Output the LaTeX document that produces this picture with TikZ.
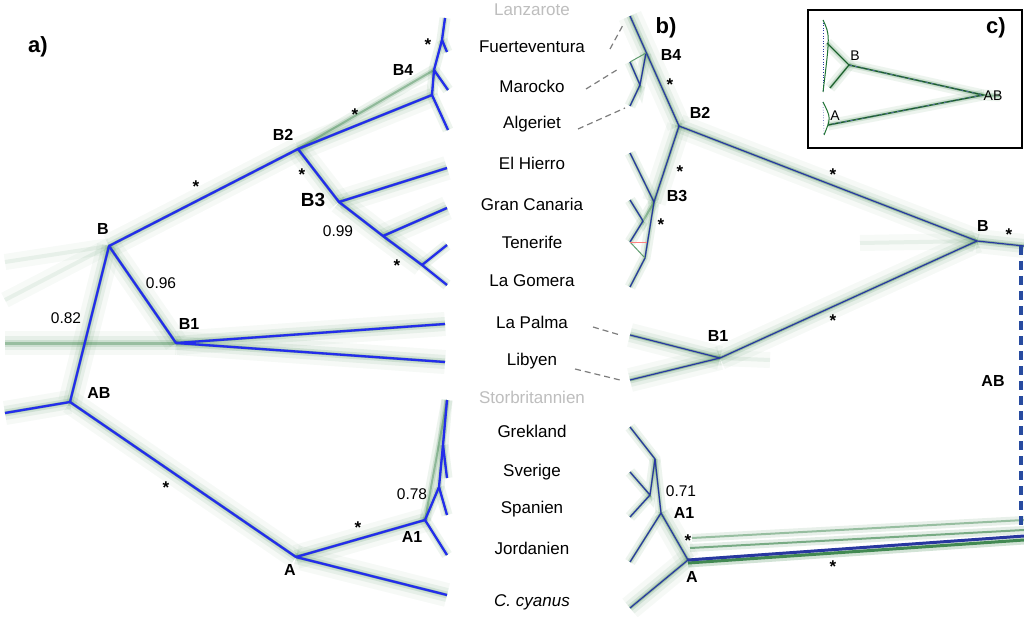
\documentclass[tikz,border=0pt]{standalone}
\usepackage{fontspec}
\setmainfont{Liberation Sans}
\definecolor{tblue}{RGB}{35,45,235}
\definecolor{nblue}{RGB}{40,55,160}
\definecolor{hgreen}{RGB}{30,115,50}
\definecolor{lgray}{RGB}{190,190,190}
\definecolor{dgray}{RGB}{125,125,125}
\definecolor{abblue}{RGB}{40,75,160}
\tikzset{
  tr/.style={draw=tblue, line width=2.3pt, line join=round},
  trb/.style={draw=nblue, line width=1.2pt, line join=round},
  haze/.style={draw=hgreen, line width=3pt, opacity=0.3,
    preaction={draw=hgreen, line width=24pt, opacity=0.04},
    preaction={draw=hgreen, line width=14pt, opacity=0.07},
    preaction={draw=hgreen, line width=7pt, opacity=0.12}},
  hazes/.style={draw=hgreen, line width=2pt, opacity=0.35,
    preaction={draw=hgreen, line width=11pt, opacity=0.08},
    preaction={draw=hgreen, line width=5pt, opacity=0.14}},
  hazef/.style={draw=hgreen, line width=4pt, opacity=0.07,
    preaction={draw=hgreen, line width=16pt, opacity=0.035}},
  lab/.style={font=\fontsize{16}{18}\selectfont\bfseries, inner sep=0pt},
  num/.style={font=\fontsize{15.5}{18}\selectfont, inner sep=0pt},
  star/.style={font=\fontsize{17}{18}\selectfont\bfseries, inner sep=0pt},
  sp/.style={font=\fontsize{17}{20}\selectfont, inner sep=0pt},
  spg/.style={sp, text=lgray},
  conn/.style={draw=dgray, line width=1.2pt, dash pattern=on 6pt off 4pt},
}
\begin{document}
\begin{tikzpicture}[x=1pt, y=-1pt]
\useasboundingbox[fill=white] (0,0) rectangle (1024,617);

% ---------------- panel a coordinates
\coordinate (r0) at (5,413);
\coordinate (AB) at (70,402);
\coordinate (B) at (109,246);
\coordinate (B1) at (176,343);
\coordinate (tLP) at (445,324);
\coordinate (tLi) at (445,362);
\coordinate (B2) at (298,149);
\coordinate (B4) at (432,95);
\coordinate (P1) at (434,70);
\coordinate (P2) at (442,40);
\coordinate (t1) at (445,18);
\coordinate (t2) at (447,52);
\coordinate (t3) at (448,90);
\coordinate (t4) at (448,130);
\coordinate (B3) at (339,202);
\coordinate (tEH) at (447,168);
\coordinate (N99) at (383,236);
\coordinate (tGC) at (447,208);
\coordinate (N3) at (422,265);
\coordinate (tTe) at (447,245);
\coordinate (tLG) at (447,285);
\coordinate (A) at (296,557);
\coordinate (tCc) at (447,595);
\coordinate (A1) at (425,520);
\coordinate (Q) at (439,487);
\coordinate (R) at (443,445);
\coordinate (tGr) at (447,400);
\coordinate (tSv) at (447,478);
\coordinate (tSp) at (447,515);
\coordinate (tJo) at (447,555);
\coordinate (lh0) at (5,343);
\coordinate (lh1) at (5,300);
\coordinate (lh2) at (5,262);

% haze a
\path[haze] (r0) -- (AB);
\path[haze] (lh0) -- (B1);
\path[hazef] (lh1) -- (B);
\path[hazef] (lh2) -- (B);
\path[haze] (AB) -- (B);
\path[haze] (B) -- (B1);
\path[haze] (B1) -- (tLP);
\path[haze] (B1) -- (tLi);
\path[haze] (B) -- (B2);
\path[haze] (B2) -- (B4);
\path[hazes] (B2) -- (P1);
\path[hazes] (B4) -- (P1) -- (P2) -- (t1);
\path[hazes] (P2) -- (t2);
\path[hazes] (P1) -- (t3);
\path[hazes] (B4) -- (t4);
\path[haze] (B2) -- (B3);
\path[haze] (B3) -- (tEH);
\path[haze] (B3) -- (N99);
\path[haze] (N99) -- (tGC);
\path[haze] (N99) -- (N3);
\path[hazes] (N3) -- (tTe);
\path[hazes] (N3) -- (tLG);
\path[haze] (AB) -- (A);
\path[haze] (A) -- (tCc);
\path[haze] (A) -- (A1);
\path[hazes] (A1) -- (Q) -- (R) -- (tGr);
\path[hazes] (R) -- (tSv);
\path[hazes] (Q) -- (tSp);
\path[hazes] (A1) -- (tJo);
\path[hazes] (A1) -- (tGr);

% tree a
\draw[tr] (r0) -- (AB) -- (B) -- (B2) -- (B4) -- (P1) -- (P2) -- (t1);
\draw[tr] (P2) -- (t2);
\draw[tr] (P1) -- (t3);
\draw[tr] (B4) -- (t4);
\draw[tr] (B) -- (B1) -- (tLP);
\draw[tr] (B1) -- (tLi);
\draw[tr] (B2) -- (B3) -- (tEH);
\draw[tr] (B3) -- (N99) -- (tGC);
\draw[tr] (N99) -- (N3) -- (tTe);
\draw[tr] (N3) -- (tLG);
\draw[tr] (AB) -- (A) -- (tCc);
\draw[tr] (A) -- (A1) -- (Q) -- (R) -- (tGr);
\draw[tr] (R) -- (tSv);
\draw[tr] (Q) -- (tSp);
\draw[tr] (A1) -- (tJo);

% labels a
\node[font=\fontsize{22}{24}\selectfont\bfseries, inner sep=0pt] (la) at (38,47) {a)};
\node[lab] (lB4) at (403,70) {B4};
\node[lab] (lB2) at (283,135) {B2};
\node[lab, font=\fontsize{19}{20}\selectfont\bfseries] (lB3) at (313,200) {B3};
\node[lab] (lB) at (103,229) {B};
\node[lab] (lB1) at (189,324) {B1};
\node[lab] (lAB) at (99,393) {AB};
\node[lab] (lA) at (290,570) {A};
\node[lab] (lA1) at (412,537) {A1};
\node[num] (n96) at (161,283) {0.96};
\node[num] (n99) at (338,231) {0.99};
\node[num] (n82) at (66,318) {0.82};
\node[num] (n78) at (412,494) {0.78};
\node[star] (s1) at (428,45) {*};
\node[star] (s2) at (355,115) {*};
\node[star] (s3) at (196,187) {*};
\node[star] (s4) at (302,175) {*};
\node[star] (s5) at (397,266) {*};
\node[star] (s6) at (166,488) {*};
\node[star] (s7) at (358,528) {*};

% ---------------- species column
\node[spg] (sLa) at (532,10) {Lanzarote};
\node[sp] (sFu) at (532,47) {Fuerteventura};
\node[sp] (sMa) at (532,86) {Marocko};
\node[sp] (sAl) at (532,124) {Algeriet};
\node[sp] (sEH) at (532,163) {El Hierro};
\node[sp] (sGC) at (532,204) {Gran Canaria};
\node[sp] (sTe) at (532,242) {Tenerife};
\node[sp] (sLG) at (532,281) {La Gomera};
\node[sp] (sLP) at (532,322) {La Palma};
\node[sp] (sLi) at (532,361) {Libyen};
\node[spg] (sSt) at (532,397) {Storbritannien};
\node[sp] (sGr) at (532,431) {Grekland};
\node[sp] (sSv) at (532,472) {Sverige};
\node[sp] (sSp) at (532,509) {Spanien};
\node[sp] (sJo) at (532,548) {Jordanien};
\node[sp, font=\fontsize{17}{20}\selectfont\itshape] (sCc) at (532,602) {C. cyanus};

% ---------------- panel b coordinates
\coordinate (bB2) at (679,126);
\coordinate (bT) at (630,16);
\coordinate (bX) at (646,53);
\coordinate (bY) at (640,85);
\coordinate (bt2) at (630,62);
\coordinate (bt3) at (630,106);
\coordinate (bB3) at (654,202);
\coordinate (btEH) at (630,153);
\coordinate (bU) at (643,221);
\coordinate (bt5) at (630,200);
\coordinate (bt6) at (630,242);
\coordinate (bT2) at (645,258);
\coordinate (bt7) at (630,287);
\coordinate (bB) at (977,241);
\coordinate (bBr) at (1024,246);
\coordinate (bB1) at (720,358);
\coordinate (btLP) at (630,335);
\coordinate (btLi) at (630,380);
\coordinate (bA) at (688,560);
\coordinate (bAr) at (1024,536);
\coordinate (btCc) at (630,608);
\coordinate (bA1) at (661,513);
\coordinate (bW) at (655,459);
\coordinate (btGr) at (630,427);
\coordinate (bV) at (650,495);
\coordinate (btSv) at (630,472);
\coordinate (btSp) at (630,517);
\coordinate (btJo) at (630,562);
\coordinate (bg1a) at (690,548);
\coordinate (bg1b) at (1024,530);
\coordinate (bg2a) at (692,538);
\coordinate (bg2b) at (1024,520);
\coordinate (bg3a) at (688,563);
\coordinate (bg3b) at (1024,540);
\coordinate (bh0) at (860,243);
\coordinate (bh1) at (770,360);

% haze b
\path[haze] (bB2) -- (bT);
\path[hazes] (bX) -- (bY) -- (bt2);
\path[hazes] (bY) -- (bt3);
\path[haze] (bB2) -- (bB3);
\path[hazes] (bB3) -- (btEH);
\path[hazes] (bB3) -- (bU) -- (bt5);
\path[hazes] (bU) -- (bt6);
\path[hazes] (bB3) -- (bT2) -- (bt7);
\path[haze] (bB2) -- (bB);
\path[haze] (bB) -- (bBr);
\path[haze] (bB) -- (bB1);
\path[hazef] (bh0) -- (bB);
\path[hazef] (bh1) -- (bB1);
\path[haze] (bB1) -- (btLP);
\path[haze] (bB1) -- (btLi);
\path[haze] (bA) -- (btCc);
\path[haze] (bA) -- (bA1);
\path[hazes] (bA1) -- (bW) -- (btGr);
\path[hazes] (bW) -- (bV) -- (btSv);
\path[hazes] (bV) -- (btSp);
\path[hazes] (bA1) -- (btJo);

% green parallel lines to AB
\draw[draw=hgreen, line width=8pt, opacity=0.1] (bg2a) -- (bg2b);
\draw[draw=hgreen!70, line width=2pt, opacity=0.6] (bg2a) -- (bg2b);
\draw[draw=hgreen, line width=8pt, opacity=0.12] (bg1a) -- (bg1b);
\draw[draw=hgreen!80, line width=2pt, opacity=0.7] (bg1a) -- (bg1b);
\draw[draw=hgreen, line width=9pt, opacity=0.2] (bg3a) -- (bg3b);
\draw[draw=hgreen, line width=3pt, opacity=0.8] (bg3a) -- (bg3b);

% tree b
\draw[trb] (bB2) -- (bT);
\draw[trb] (bX) -- (bY) -- (bt2);
\draw[trb] (bY) -- (bt3);
\draw[draw=hgreen!70, line width=1pt] (bt2) -- (bX);
\draw[trb] (bB2) -- (bB3) -- (btEH);
\draw[trb] (bB3) -- (bT2) -- (bt7);
\draw[trb] (bU) -- (bt5);
\draw[trb] (bU) -- (bt6);
\draw[draw=hgreen!70, line width=1pt] (bt6) -- (bT2);
\draw[draw=red!50, line width=0.8pt] (bt6) -- (647,242);
\draw[trb] (bB2) -- (bB) -- (bBr);
\draw[trb] (bB) -- (bB1) -- (btLP);
\draw[trb] (bB1) -- (btLi);
\draw[trb] (btCc) -- (bA) -- (bA1) -- (bW) -- (btGr);
\draw[trb] (bW) -- (bV) -- (btSv);
\draw[trb] (bV) -- (btSp);
\draw[trb] (bA1) -- (btJo);
\draw[draw=nblue, line width=3pt] (bA) -- (bAr);

% dashed AB
\coordinate (dab1) at (1021,246);
\coordinate (dab2) at (1021,530);
\draw[draw=abblue, line width=4.5pt, dash pattern=on 9pt off 6pt] (dab1) -- (dab2);

% labels b
\node[font=\fontsize{22}{24}\selectfont\bfseries, inner sep=0pt] (lb) at (666,28) {b)};
\node[lab] (blB4) at (671,55) {B4};
\node[lab] (blB2) at (700,113) {B2};
\node[lab] (blB3) at (677,196) {B3};
\node[lab] (blB1) at (718,336) {B1};
\node[lab] (blB) at (983,226) {B};
\node[lab] (blAB) at (993,381) {AB};
\node[lab] (blA1) at (684,513) {A1};
\node[lab] (blA) at (692,577) {A};
\node[num] (bn71) at (681,491) {0.71};
\node[star] (bs1) at (670,85) {*};
\node[star] (bs2) at (680,172) {*};
\node[star] (bs3) at (661,225) {*};
\node[star] (bs4) at (833,175) {*};
\node[star] (bs5) at (833,321) {*};
\node[star] (bs6) at (1009,235) {*};
\node[star] (bs7) at (688,541) {*};
\node[star] (bs8) at (833,567) {*};

% dashed connectors
\coordinate (cF1) at (610,49);  \coordinate (cF2) at (623,25);
\coordinate (cM1) at (586,89);  \coordinate (cM2) at (620,68);
\coordinate (cA1) at (578,129); \coordinate (cA2) at (625,108);
\coordinate (cP1) at (593,327); \coordinate (cP2) at (620,335);
\coordinate (cL1) at (575,369); \coordinate (cL2) at (620,380);
\draw[conn] (cF1) -- (cF2);
\draw[conn] (cM1) -- (cM2);
\draw[conn] (cA1) -- (cA2);
\draw[conn] (cP1) -- (cP2);
\draw[conn] (cL1) -- (cL2);

% ---------------- panel c inset
\coordinate (cB) at (849,65);
\coordinate (cAB) at (983,95);
\coordinate (cA) at (828,125);
\coordinate (cb1) at (827,43);
\coordinate (cb2) at (830,88);
\coordinate (cv1) at (823,20);
\coordinate (cv2) at (823,92);
\coordinate (cv3) at (823,102);
\coordinate (cv4) at (824,135);
\coordinate (cABr) at (1000,96);
\draw[black, line width=1.4pt] (808,10) rectangle (1022,148);
\path[hazes] (cB) -- (cAB);
\path[hazes] (cA) -- (cAB);
\path[hazes] (cAB) -- (cABr);
\path[hazes] (cb1) -- (cB) -- (cb2);
\draw[draw=hgreen!80!black, line width=1.3pt] (cB) -- (cAB) -- (cA);
\draw[draw=nblue!70, line width=0.5pt, dashed] (cB) -- (cAB) -- (cA);
\draw[draw=hgreen!80!black, line width=1pt] (cb1) -- (cB) -- (cb2);
\draw[draw=nblue, line width=0.6pt, dotted] (cv1) -- (cv2);
\draw[draw=nblue, line width=0.6pt, dotted] (cv3) -- (cv4);
\draw[draw=hgreen, line width=1pt] (cv1) .. controls (830,35) .. (cv2);
\draw[draw=hgreen, line width=1pt] (cv3) .. controls (831,118) .. (cv4);
\node[font=\fontsize{22}{24}\selectfont\bfseries, inner sep=0pt] (lc) at (996,28) {c)};
\node[font=\fontsize{14}{16}\selectfont, inner sep=0pt] (clB) at (855,56) {B};
\node[font=\fontsize{14}{16}\selectfont, inner sep=0pt] (clAB) at (993,96) {AB};
\node[font=\fontsize{14}{16}\selectfont, inner sep=0pt] (clA) at (835,116) {A};
\end{tikzpicture}
\end{document}
